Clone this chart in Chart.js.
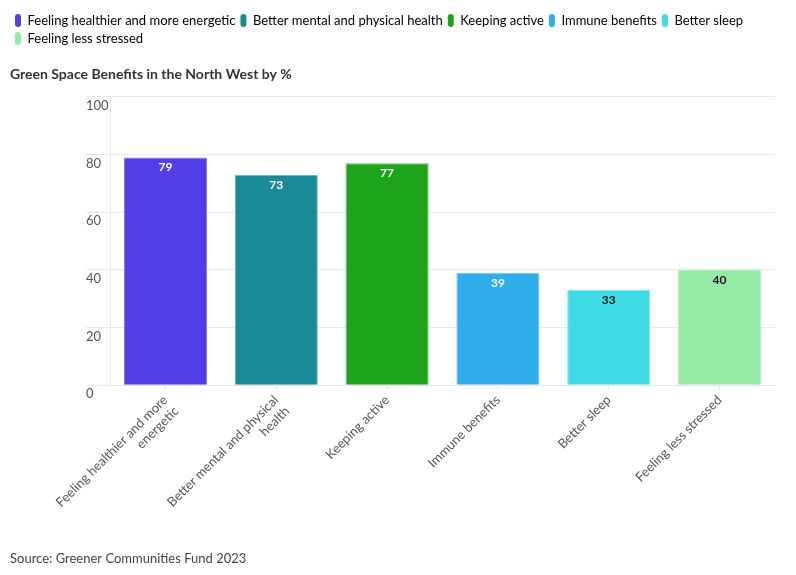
<!DOCTYPE html>
<html>
<head>
<meta charset="utf-8">
<script src="https://cdn.jsdelivr.net/npm/chart.js@4.4.1/dist/chart.umd.min.js"></script>
<style>
  body { margin: 0; background: #fff; }
  #contenedor { width: 796px; height: 575px; }
</style>
</head>
<body>
<div id="contenedor"><canvas id="grafico"></canvas></div>
<script>
// Datos del gráfico
const categorias = [
    ['Feeling healthier and more', 'energetic'],
    ['Better mental and physical', 'health'],
    'Keeping active',
    'Immune benefits',
    'Better sleep',
    'Feeling less stressed'
];
const nombresLeyenda = [
    'Feeling healthier and more energetic',
    'Better mental and physical health',
    'Keeping active',
    'Immune benefits',
    'Better sleep',
    'Feeling less stressed'
];
const valores = [79, 73, 77, 39, 33, 40];
const ticksY = [0, 20, 40, 60, 80, 100];

const colores = ['#543ee8', '#1b8a98', '#1ca51a', '#2faeed', '#3fdce6', '#93eba4'];
const bordes = ['#8475f0', '#5fb0ba', '#55c354', '#7ccbf3', '#7fe8ee', '#b5f2c1'];
const coloresTexto = ['#ffffff', '#ffffff', '#ffffff', '#ffffff', '#1a1a1a', '#1a1a1a'];

const fuente = 'Lato, "Liberation Sans", sans-serif';

// Plugin para escribir el valor dentro de cada barra
const etiquetasValor = {
    id: 'etiquetasValor',
    afterDatasetsDraw(chart) {
        const ctx = chart.ctx;
        const meta = chart.getDatasetMeta(0);
        ctx.save();
        ctx.font = 'bold 12px ' + fuente;
        ctx.textAlign = 'center';
        ctx.textBaseline = 'middle';
        meta.data.forEach((barra, i) => {
            ctx.fillStyle = coloresTexto[i];
            ctx.fillText(valores[i], barra.x, barra.y + 10);
        });
        ctx.restore();
    }
};

new Chart(document.getElementById('grafico'), {
    type: 'bar',
    data: {
        labels: categorias,
        datasets: [{
            label: 'Green Space Benefits',
            data: valores,
            backgroundColor: colores,
            borderColor: bordes,
            borderWidth: 1,
            barPercentage: 0.75,
            categoryPercentage: 1
        }]
    },
    options: {
        responsive: true,
        maintainAspectRatio: false,
        animation: false,
        layout: { padding: { left: 10, right: 21, top: 9, bottom: 8 } },
        plugins: {
            legend: {
                position: 'top',
                align: 'start',
                weight: 3000,
                labels: {
                    font: { family: fuente, size: 13 },
                    color: '#3a3a3a',
                    boxWidth: 6,
                    boxHeight: 13,
                    useBorderRadius: true,
                    borderRadius: 3,
                    padding: 5,
                    generateLabels: () => nombresLeyenda.map((nombre, i) => ({
                        text: nombre,
                        fillStyle: colores[i],
                        strokeStyle: colores[i],
                        lineWidth: 0,
                        borderRadius: 3,
                        index: i
                    }))
                },
                onClick: () => {}
            },
            title: {
                display: true,
                text: 'Green Space Benefits in the North West by %',
                align: 'start',
                color: '#333',
                font: { family: fuente, size: 14, weight: 'bold' },
                padding: { top: 11, bottom: 14 }
            },
            subtitle: {
                display: true,
                position: 'bottom',
                text: 'Source: Greener Communities Fund 2023',
                align: 'start',
                color: '#444',
                font: { family: fuente, size: 13 },
                padding: { top: 28, bottom: 0 }
            },
            tooltip: { enabled: false }
        },
        scales: {
            x: {
                grid: {
                    offset: false,
                    drawOnChartArea: false,
                    drawTicks: true,
                    tickLength: 5,
                    color: '#e6e6e6'
                },
                border: { color: '#e6e6e6' },
                ticks: {
                    color: '#555',
                    font: { family: fuente, size: 13 },
                    maxRotation: 45,
                    minRotation: 45,
                    padding: 2
                }
            },
            y: {
                min: 0,
                max: 100,
                afterBuildTicks: (escala) => {
                    escala.ticks = ticksY.map(v => ({ value: v }));
                },
                afterFit: (escala) => { escala.width = 100; },
                grid: {
                    color: '#e9e9e9',
                    tickLength: 24
                },
                border: { color: '#e9e9e9' },
                ticks: {
                    color: '#555',
                    font: { family: fuente, size: 13 },
                    mirror: true,
                    crossAlign: 'near',
                    padding: -24,
                    labelOffset: 9
                }
            }
        }
    },
    plugins: [etiquetasValor]
});
</script>
</body>
</html>
